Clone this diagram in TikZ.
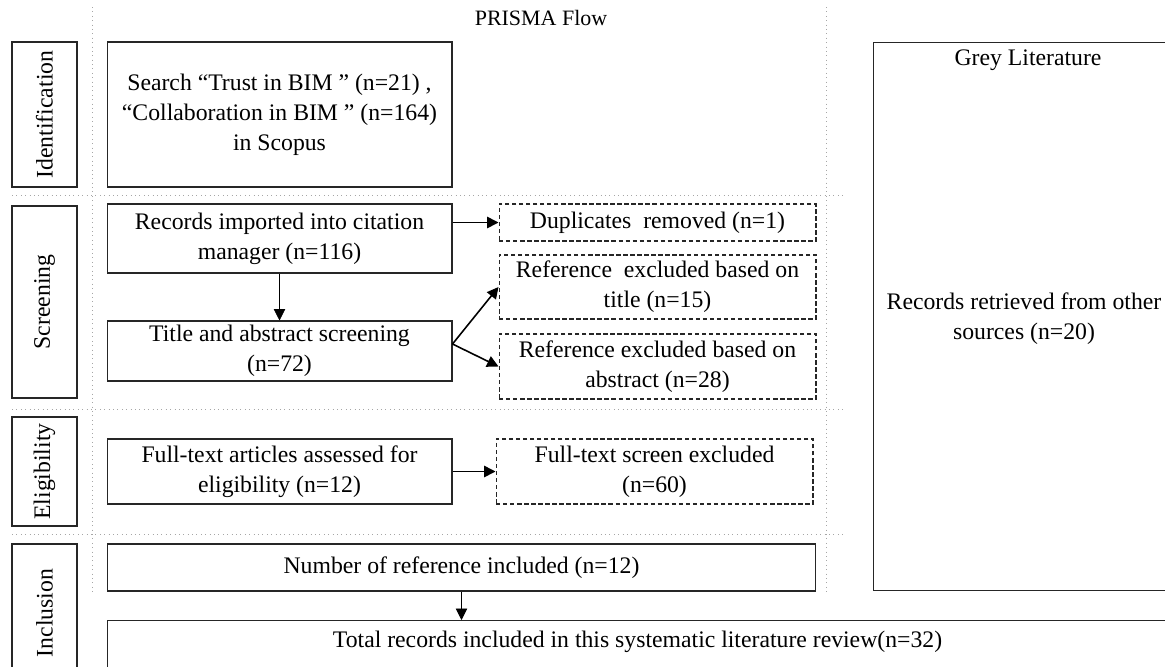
\documentclass[tikz,border=0pt]{standalone}
\usepackage{fontspec}
\setmainfont{Liberation Serif}
\usetikzlibrary{arrows.meta}

\tikzset{
  box/.style={draw=black!85, line width=0.6pt, align=center, inner sep=2pt},
  exbox/.style={box, dash pattern=on 2.5pt off 1.5pt},
  stagebox/.style={box, rotate=90},
  sep/.style={gray!70, dotted, line width=0.5pt},
}

\begin{document}
\begin{tikzpicture}[x=0.02cm, y=-0.02cm, >={Triangle[length=6.5pt,width=6.5pt]},
  every node/.style={font=\fontsize{13.5}{17}\selectfont}]
  \clip (0,0) rectangle (1165,666);

  % separators
  \foreach \y in {195,409,534} {
    \draw[sep] (12,\y) -- (845,\y);
  }
  \foreach \x in {92,826} {
    \draw[sep] (\x,7) -- (\x,593);
  }

  \node[font=\fontsize{12.5}{15}\selectfont] (head) at (541,18) {PRISMA Flow};

  % stages
  \foreach \n\y\h\t in {idl/114.5/2.9/Identification,scl/302/3.84/Screening,ell/471.5/2.18/Eligibility,inl/613/2.76/Inclusion} {
    \node[stagebox, minimum width=\h cm, minimum height=1.3cm] (\n) at (44.5,\y) {\t};
  }

  \node[box, minimum width=6.9cm, minimum height=2.9cm] (search) at (279.5,114.5) {Search “Trust in BIM ” (n=21) ,\\ “Collaboration in BIM ” (n=164)\\ in Scopus};
  \node[box, minimum width=6.9cm, minimum height=1.38cm] (rec) at (279.5,238.5) {Records imported into citation\\ manager (n=116)};
  \node[box, minimum width=6.9cm, minimum height=1.2cm] (tas) at (279.5,351) {Title and abstract screening\\ (n=72)};
  \node[box, minimum width=6.9cm, minimum height=1.3cm] (fta) at (279.5,471.5) {Full-text articles assessed for\\ eligibility (n=12)};
  \node[box, minimum width=14.18cm, minimum height=0.94cm] (num) at (461.5,567.5) {Number of reference included (n=12)};
  \node[box, anchor=north, minimum width=21.22cm, inner ysep=0pt, text height=0.54cm, text depth=0.6cm] (total) at (637.5,620) {Total records included in this systematic literature review(n=32)};

  % excluded
  \node[exbox, minimum width=6.34cm, minimum height=0.74cm] (dup) at (657.5,222.5) {Duplicates\ \ removed (n=1)};
  \node[exbox, minimum width=6.34cm, minimum height=1.28cm] (extitle) at (657.5,287) {Reference\ \ excluded based on\\ title (n=15)};
  \node[exbox, minimum width=6.34cm, minimum height=1.3cm] (exabs) at (657.5,366.5) {Reference excluded based on\\ abstract (n=28)};
  \node[exbox, minimum width=6.34cm, minimum height=1.3cm] (ftx) at (654.5,471.5) {Full-text screen excluded\\ (n=60)};

  % grey literature
  \node[box, minimum width=6.3cm, minimum height=10.98cm] (grey) at (1030.5,316.5) {};
  \node (greyhd) at (1028,60) {Grey Literature};
  \node[align=center] (greyrec) at (1024,319) {Records retrieved from other\\ sources (n=20)};

  \draw[->, line width=0.4pt] (rec) -- (tas);
  \draw[->, line width=0.9pt] (rec.east |- dup) -- (dup.west);
  \coordinate (fork) at ([yshift=0.14cm]tas.east);
  \draw[->, line width=0.9pt] (fork) -- (extitle.west);
  \draw[->, line width=0.9pt] (fork) -- (exabs.west);
  \draw[->, line width=0.9pt] (fta) -- (ftx);
  \draw[->, line width=0.4pt] (num.south) -- (num.south |- total.north);
\end{tikzpicture}
\end{document}
